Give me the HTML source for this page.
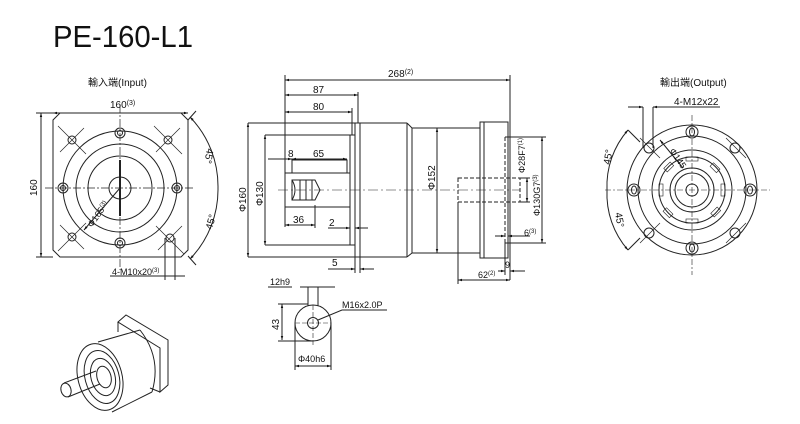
<!DOCTYPE html>
<html><head><meta charset="utf-8"><style>
html,body{margin:0;padding:0;background:#fff;}
svg{display:block;}
text{font-family:"Liberation Sans","Noto Sans CJK SC",sans-serif;fill:#111;}
</style></head><body>
<svg width="800" height="424" viewBox="0 0 800 424" xmlns="http://www.w3.org/2000/svg">
<defs>
<marker id="a" viewBox="0 0 10 10" refX="10" refY="5" markerWidth="6" markerHeight="4" orient="auto-start-reverse"><path d="M0,2 L10,5 L0,8z" fill="#111"/></marker>
</defs>
<text x="53" y="47" font-size="31" textLength="140" lengthAdjust="spacingAndGlyphs">PE-160-L1</text>

<g stroke="#222" stroke-width="1" fill="none">
<!-- INPUT VIEW -->
<path d="M60,113 L181,113 L188,120 L188,250 L181,257 L60,257 L53,250 L53,120 Z"/>
<circle cx="120" cy="188" r="57"/>
<circle cx="120" cy="188" r="44"/>
<circle cx="120" cy="188" r="32"/>
<circle cx="120" cy="188" r="11"/>
<g stroke-dasharray="8,2,2,2" stroke-width="0.7">
<line x1="45" y1="188" x2="195" y2="188"/><line x1="120" y1="105" x2="120" y2="270"/>
</g>
<line x1="120" y1="160" x2="120" y2="216" stroke-width="2"/>
<g>
<circle cx="120" cy="133" r="5"/><circle cx="120" cy="133" r="2.5"/>
<circle cx="120" cy="243" r="5"/><circle cx="120" cy="243" r="2.5"/>
<circle cx="63" cy="188" r="5"/><circle cx="63" cy="188" r="2.5"/>
<circle cx="177" cy="188" r="5"/><circle cx="177" cy="188" r="2.5"/>
<circle cx="72" cy="140" r="4"/><circle cx="168" cy="140" r="4"/><circle cx="72" cy="237" r="4"/><circle cx="170" cy="238" r="4"/>
<path d="M58,126 L86,154 M84,128 L60,152 M154,126 L182,154 M180,128 L156,152 M58,251 L86,223 M60,225 L84,249 M156,226 L184,254 M182,226 L158,250" stroke-width="0.7"/>
</g>
<line x1="53" y1="113" x2="188" y2="113" marker-start="url(#a)" marker-end="url(#a)"/>
<line x1="41" y1="113" x2="41" y2="257" marker-start="url(#a)" marker-end="url(#a)"/>
<line x1="36" y1="113" x2="53" y2="113"/><line x1="36" y1="257" x2="53" y2="257"/>
<path d="M190,117 A100,100 0 0 1 218,188 A100,100 0 0 1 190,259" marker-start="url(#a)" marker-end="url(#a)"/>
<line x1="188" y1="120" x2="196" y2="111"/><line x1="188" y1="256" x2="196" y2="265"/>
<line x1="120" y1="188" x2="84" y2="230" marker-end="url(#a)"/>
<line x1="165" y1="238" x2="165" y2="280"/><line x1="175" y1="238" x2="175" y2="280"/>
<line x1="110" y1="276" x2="185" y2="276"/>
</g>
<text x="88" y="86" font-size="10">輸入端(Input)</text>
<text x="110" y="108" font-size="10">160<tspan font-size="7" dy="-3">(3)</tspan></text>
<text x="0" y="0" font-size="10" transform="translate(37,196) rotate(-90)">160</text>
<text x="0" y="0" font-size="10" transform="translate(207,148) rotate(100)">45°</text>
<text x="0" y="0" font-size="10" transform="translate(212,230) rotate(-75)">45°</text>
<text x="0" y="0" font-size="9" transform="translate(92,228) rotate(-55)">Φ165<tspan font-size="6" dy="-3">(3)</tspan></text>
<text x="112" y="275" font-size="9">4-M10x20<tspan font-size="6" dy="-3">(3)</tspan></text>

<!-- SIDE VIEW -->
<g stroke="#222" stroke-width="1" fill="none">
<line x1="248" y1="123" x2="407" y2="123"/><line x1="248" y1="257" x2="407" y2="257"/>
<line x1="355" y1="123" x2="355" y2="257"/><line x1="360" y1="123" x2="360" y2="257"/>
<line x1="407" y1="123" x2="407" y2="257"/><line x1="407" y1="123" x2="412" y2="128"/><line x1="407" y1="257" x2="412" y2="253"/>
<line x1="412" y1="128" x2="480" y2="128"/><line x1="412" y1="253" x2="480" y2="253"/><line x1="412" y1="128" x2="412" y2="253"/>
<rect x="480" y="122" width="28" height="136"/>
<line x1="484" y1="122" x2="484" y2="258"/>
<line x1="505" y1="137" x2="505" y2="243" stroke-dasharray="4,2"/>
<line x1="505" y1="137" x2="546" y2="137"/><line x1="505" y1="243" x2="546" y2="243"/>
<line x1="542" y1="137" x2="542" y2="243" marker-start="url(#a)" marker-end="url(#a)"/>
<path d="M458,178 L520,178 L520,202 L458,202 Z" stroke-dasharray="4,2"/>
<line x1="265" y1="135" x2="355" y2="135"/><line x1="265" y1="245" x2="355" y2="245"/>
<line x1="350" y1="135" x2="350" y2="245"/>
<rect x="292" y="160" width="55" height="13"/>
<line x1="285" y1="173" x2="350" y2="173"/><line x1="285" y1="207" x2="350" y2="207"/>
<line x1="285" y1="165" x2="285" y2="227"/>
<path d="M292,180 L315,180 L320,190 L315,200 L292,200 Z M292,180 Q298,190 292,200 M300,180 L300,200 M306,180 L306,200 M312,180 L312,200"/>
<line x1="278" y1="190" x2="520" y2="190" stroke-dasharray="10,3,2,3" stroke-width="0.6"/>
<line x1="285" y1="75" x2="285" y2="227"/><line x1="510" y1="75" x2="510" y2="280"/>
<line x1="358" y1="92" x2="358" y2="123"/><line x1="352" y1="108" x2="352" y2="135"/>
<line x1="285" y1="80" x2="510" y2="80" marker-start="url(#a)" marker-end="url(#a)"/>
<line x1="285" y1="95" x2="358" y2="95" marker-start="url(#a)" marker-end="url(#a)"/>
<line x1="285" y1="112" x2="352" y2="112" marker-start="url(#a)" marker-end="url(#a)"/>
<line x1="268" y1="159" x2="292" y2="159" marker-end="url(#a)"/><line x1="292" y1="159" x2="347" y2="159" marker-start="url(#a)" marker-end="url(#a)"/>
<line x1="248" y1="123" x2="248" y2="257" marker-start="url(#a)" marker-end="url(#a)"/>
<line x1="265" y1="135" x2="265" y2="245" marker-start="url(#a)" marker-end="url(#a)"/>
<line x1="437" y1="128" x2="437" y2="253" marker-start="url(#a)" marker-end="url(#a)"/>
<line x1="285" y1="225" x2="315" y2="225" marker-start="url(#a)" marker-end="url(#a)"/><line x1="315" y1="205" x2="315" y2="228"/>
<line x1="328" y1="228" x2="350" y2="228" marker-end="url(#a)"/><line x1="355" y1="228" x2="368" y2="228" marker-start="url(#a)"/>
<line x1="328" y1="269" x2="355" y2="269" marker-end="url(#a)"/><line x1="360" y1="269" x2="374" y2="269" marker-start="url(#a)"/>
<line x1="355" y1="257" x2="355" y2="273"/><line x1="360" y1="257" x2="360" y2="273"/>
<line x1="520" y1="178" x2="530" y2="178"/><line x1="520" y1="202" x2="530" y2="202"/>
<line x1="527" y1="178" x2="527" y2="202" marker-start="url(#a)" marker-end="url(#a)"/>
<line x1="495" y1="236" x2="505" y2="236" marker-end="url(#a)"/><line x1="508" y1="236" x2="530" y2="236" marker-start="url(#a)"/>
<line x1="458" y1="202" x2="458" y2="284"/>
<line x1="458" y1="280" x2="510" y2="280" marker-start="url(#a)" marker-end="url(#a)"/>
<line x1="498" y1="271" x2="505" y2="271" marker-end="url(#a)"/><line x1="510" y1="271" x2="525" y2="271" marker-start="url(#a)"/>
<line x1="505" y1="243" x2="505" y2="275"/>
</g>
<text x="388" y="77" font-size="10">268<tspan font-size="7" dy="-3">(2)</tspan></text>
<text x="313" y="93" font-size="10">87</text>
<text x="313" y="110" font-size="10">80</text>
<text x="288" y="157" font-size="10">8</text>
<text x="313" y="157" font-size="10">65</text>
<text x="293" y="223" font-size="10">36</text>
<text x="329" y="226" font-size="10">2</text>
<text x="332" y="266" font-size="10">5</text>
<text x="0" y="0" font-size="10" transform="translate(246,212) rotate(-90)">Φ160</text>
<text x="0" y="0" font-size="10" transform="translate(263,206) rotate(-90)">Φ130</text>
<text x="0" y="0" font-size="10" transform="translate(435,190) rotate(-90)">Φ152</text>
<text x="0" y="0" font-size="9" transform="translate(525,173) rotate(-90)">Φ28F7<tspan font-size="6" dy="-3">(1)</tspan></text>
<text x="0" y="0" font-size="9" transform="translate(540,216) rotate(-90)">Φ130G7<tspan font-size="6" dy="-3">(3)</tspan></text>
<text x="524" y="236" font-size="9">6<tspan font-size="6" dy="-3">(3)</tspan></text>
<text x="505" y="268" font-size="9">9</text>
<text x="478" y="278" font-size="9">62<tspan font-size="6" dy="-3">(2)</tspan></text>

<!-- SHAFT SECTION -->
<g stroke="#222" stroke-width="1" fill="none">
<circle cx="313" cy="323" r="18"/><circle cx="313" cy="323" r="5.5"/>
<path d="M308,306 L308,287 M318,306 L318,287"/>
<line x1="300" y1="287" x2="335" y2="287"/><line x1="268" y1="287" x2="292" y2="287"/>
<line x1="282" y1="304" x2="282" y2="340" marker-start="url(#a)" marker-end="url(#a)"/>
<line x1="278" y1="304" x2="308" y2="304"/><line x1="278" y1="341" x2="313" y2="341"/>
<line x1="295" y1="323" x2="331" y2="323" stroke-dasharray="5,2" stroke-width="0.6"/>
<line x1="313" y1="305" x2="313" y2="345" stroke-dasharray="5,2" stroke-width="0.6"/>
<line x1="295" y1="323" x2="295" y2="370"/><line x1="331" y1="323" x2="331" y2="370"/>
<line x1="295" y1="366" x2="331" y2="366" marker-start="url(#a)" marker-end="url(#a)"/>
<path d="M318,320 L342,310 L387,310"/>
</g>
<text x="270" y="285" font-size="9">12h9</text>
<text x="0" y="0" font-size="10" transform="translate(279,330) rotate(-90)">43</text>
<text x="342" y="308" font-size="9">M16x2.0P</text>
<text x="298" y="362" font-size="9">Φ40h6</text>

<!-- OUTPUT VIEW -->
<g stroke="#222" stroke-width="1" fill="none">
<circle cx="692" cy="190" r="65"/><circle cx="692" cy="190" r="54"/>
<circle cx="692" cy="190" r="40"/><circle cx="692" cy="190" r="33"/>
<circle cx="692" cy="190" r="22"/><circle cx="692" cy="190" r="17"/><circle cx="692" cy="190" r="6"/>
<g stroke-dasharray="6,2,2,2" stroke-width="0.6"><line x1="605" y1="190" x2="770" y2="190"/><line x1="692" y1="115" x2="692" y2="275"/></g>
<g stroke-width="0.6">
<rect x="686" y="157" width="12" height="4"/><rect x="686" y="219" width="12" height="4"/>
<rect x="659" y="184" width="4" height="12"/><rect x="721" y="184" width="4" height="12"/>
<rect x="664" y="165" width="9" height="5" transform="rotate(-45 668 167)"/>
<rect x="711" y="165" width="9" height="5" transform="rotate(45 715 167)"/>
<rect x="664" y="210" width="9" height="5" transform="rotate(45 668 212)"/>
<rect x="711" y="210" width="9" height="5" transform="rotate(-45 715 212)"/>
</g>
<circle cx="692" cy="132" r="6"/><ellipse cx="692" cy="132" rx="2.5" ry="4"/>
<circle cx="692" cy="248" r="6"/><ellipse cx="692" cy="248" rx="2.5" ry="4"/>
<circle cx="634" cy="190" r="6"/><ellipse cx="634" cy="190" rx="2.5" ry="4"/>
<circle cx="750" cy="190" r="6"/><ellipse cx="750" cy="190" rx="2.5" ry="4"/>
<circle cx="649" cy="148" r="5"/><circle cx="735" cy="148" r="5"/><circle cx="649" cy="233" r="5"/><circle cx="735" cy="233" r="5"/>
<path d="M640,138 L660,158 M726,138 L746,158 M726,243 L746,223 M640,243 L660,223" stroke-width="0.7"/>
<line x1="643" y1="107" x2="643" y2="148"/><line x1="653" y1="107" x2="653" y2="148"/>
<line x1="628" y1="107" x2="643" y2="107" marker-end="url(#a)"/><line x1="653" y1="107" x2="720" y2="107" marker-start="url(#a)"/>
<path d="M628,130 A85,85 0 0 0 607,190 A85,85 0 0 0 628,250" marker-start="url(#a)" marker-end="url(#a)"/>
<line x1="628" y1="130" x2="640" y2="142"/><line x1="628" y1="250" x2="640" y2="238"/>
<line x1="660" y1="140" x2="683" y2="168" marker-start="url(#a)"/>
</g>
<text x="660" y="86" font-size="10">輸出端(Output)</text>
<text x="674" y="105" font-size="10">4-M12x22</text>
<text x="0" y="0" font-size="10" transform="translate(610,165) rotate(-80)">45°</text>
<text x="0" y="0" font-size="10" transform="translate(615,213) rotate(80)">45°</text>
<text x="0" y="0" font-size="9" transform="translate(669,151) rotate(55)">Φ145</text>

<!-- ISO VIEW -->
<g stroke="#222" stroke-width="1" fill="none">
<path d="M118,322 L126,315 L168,340 L168,385 L160,392 L160,348 Z M118,322 L118,332 M126,315 L168,340"/>
<path d="M160,392 L150,388"/>
<path d="M98,342 L140,330 M112,412 L152,392"/>
<path d="M140,330 Q162,358 152,392"/>
<ellipse cx="100" cy="377" rx="22" ry="34" transform="rotate(-15 100 377)"/>
<ellipse cx="102" cy="377" rx="17" ry="27" transform="rotate(-15 102 377)"/>
<ellipse cx="103" cy="377" rx="12" ry="19" transform="rotate(-15 103 377)"/>
<ellipse cx="104" cy="377" rx="7" ry="11" transform="rotate(-15 104 377)"/>
<path d="M64,383 L96,371 M68,397 L100,384"/>
<ellipse cx="66" cy="390" rx="5" ry="7" transform="rotate(-15 66 390)"/>
</g>
</svg>
</body></html>
